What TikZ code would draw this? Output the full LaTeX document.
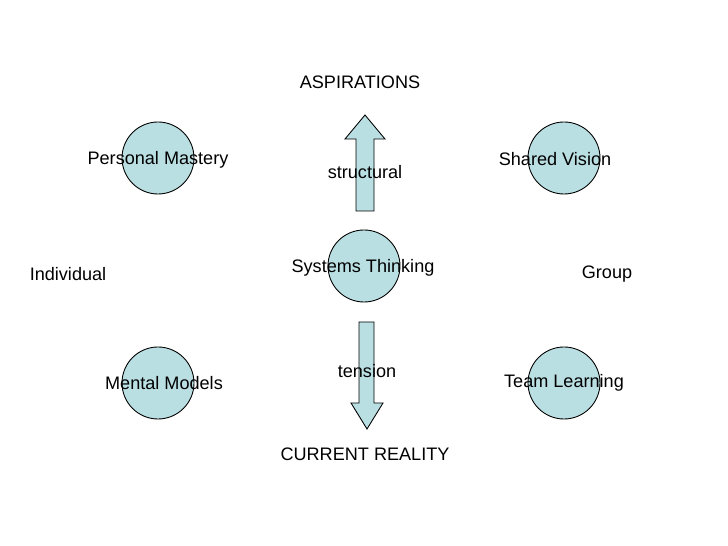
\documentclass[tikz,border=0pt]{standalone}
\usepackage{fontspec}
\setmainfont{Liberation Sans}
\definecolor{disc}{RGB}{186,223,227}
\tikzset{
	disc/.style={draw=black, fill=disc, line width=0.5pt},
	lbl/.style={font=\fontsize{10.3pt}{12pt}\selectfont, inner sep=0pt}
}

\begin{document}
\begin{tikzpicture}[x=0.02cm, y=-0.02cm]
			%%%%% START %%%%%
			\useasboundingbox (0, 0) rectangle (728, 546);
			
			\draw[disc] (158, 158) circle (36);
			\draw[disc] (564, 158) circle (36);
			\draw[disc] (364, 266) circle (36);
			\draw[disc] (158, 383) circle (36);
			\draw[disc] (564, 383) circle (36);
			
			\draw[disc] (356, 211) -- (356, 139) -- (345, 139) -- (365, 115) -- (385, 139) -- (374, 139) -- (374, 211) -- cycle;
			\draw[disc] (359, 322) -- (374, 322) -- (374, 403) -- (383, 403) -- (367, 429) -- (351, 403) -- (359, 403) -- cycle;
			
			\node[lbl] (aspirations) at (360, 82) {ASPIRATIONS};
			\node[lbl] (structural) at (365, 172) {structural};
			\node[lbl] (systems) at (363, 268) {Systems Thinking};
			\node[lbl] (tension) at (367, 371) {tension};
			\node[lbl] (reality) at (365, 454) {CURRENT REALITY};
			
			\node[lbl] (mastery) at (158, 160) {Personal Mastery};
			\node[lbl] (vision) at (555, 159) {Shared Vision};
			\node[lbl] (individual) at (68, 274) {Individual};
			\node[lbl] (group) at (607, 274) {Group};
			\node[lbl] (models) at (164, 383) {Mental Models};
			\node[lbl] (learning) at (564, 383) {Team Learning};
			
			%%%%% END %%%%%
\end{tikzpicture}
\end{document}
